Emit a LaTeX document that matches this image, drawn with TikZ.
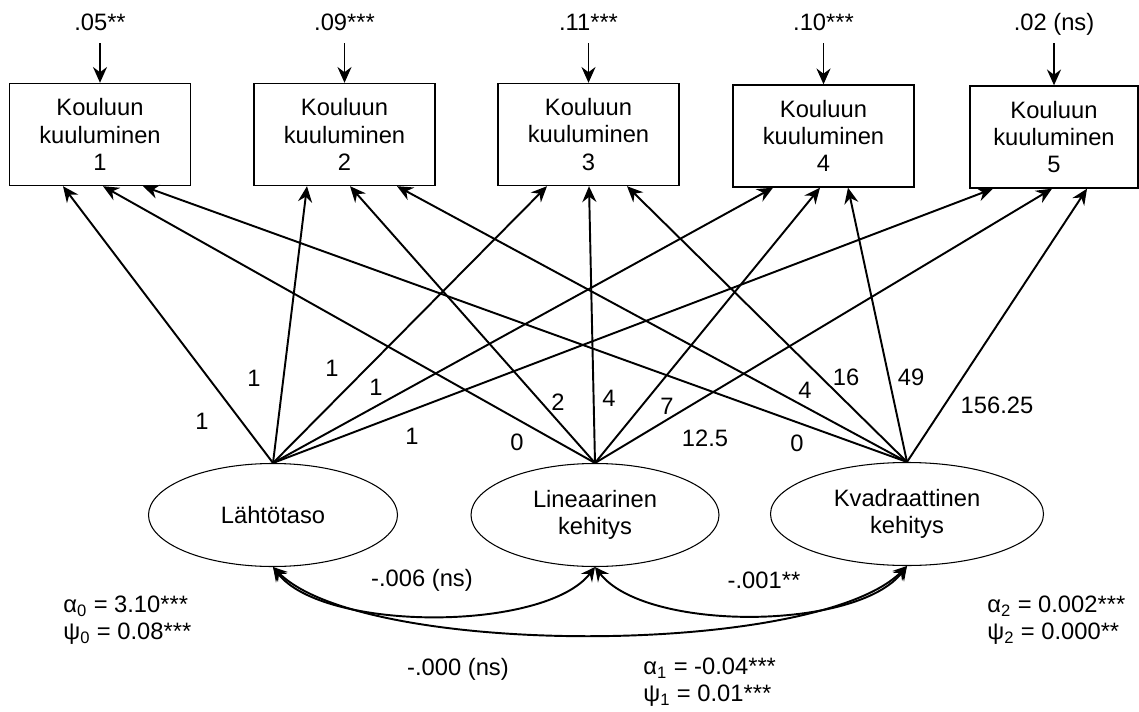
\documentclass[tikz,border=0pt]{standalone}
\usepackage{fontspec}
\setmainfont{Liberation Sans}
\usetikzlibrary{shapes.geometric,arrows.meta}
\tikzstyle{indicator}=[rectangle, draw=black, line width=0.8pt, minimum width=3.62cm, minimum height=2.04cm, align=center, inner sep=1pt]
\tikzstyle{factor}=[ellipse, draw=black, line width=0.6pt, minimum height=2.06cm, align=center, inner sep=1pt]
\tikzstyle{loading}=[line width=1.1pt, -{Stealth[length=9pt,width=8pt,inset=3pt]}]
\tikzstyle{residual}=[loading, shorten <=0.12cm]
\tikzstyle{covar}=[line width=1.1pt, {Stealth[length=8pt,width=8pt,inset=3pt]}-{Stealth[length=8pt,width=8pt,inset=3pt]}]
\tikzstyle{lbl}=[inner sep=1pt]
\tikzstyle{est}=[inner sep=0pt, align=left, anchor=west]

\begin{document}
\begin{tikzpicture}[font=\fontsize{13.5}{15.5}\selectfont]
\useasboundingbox (0,0) rectangle (22.78,14.22);

% indicators
\node[indicator] (k1) at (2.00,11.53) {Kouluun\\kuuluminen\\1};
\node[indicator] (k2) at (6.89,11.53) {Kouluun\\kuuluminen\\2};
\node[indicator] (k3) at (11.77,11.53) {Kouluun\\kuuluminen\\3};
\node[indicator] (k4) at (16.47,11.50) {Kouluun\\kuuluminen\\4};
\node[indicator, minimum width=3.36cm] (k5) at (21.08,11.48) {Kouluun\\kuuluminen\\5};

% residual variances
\node[lbl, anchor=base, text depth=0.25em] (r1) at (2.00,13.6) {.05**};
\node[lbl, anchor=base, text depth=0.25em] (r2) at (6.89,13.6) {.09***};
\node[lbl, anchor=base, text depth=0.25em] (r3) at (11.77,13.6) {.11***};
\node[lbl, anchor=base, text depth=0.25em] (r4) at (16.47,13.6) {.10***};
\node[lbl, anchor=base, text depth=0.25em] (r5) at (21.08,13.6) {.02 (ns)};
\foreach \i in {1,...,5}
\draw[residual] (r\i) -- (k\i);

% growth factors
\node[factor, minimum width=4.98cm] (e1) at (5.46,3.92) {Lähtötaso};
\node[factor, minimum width=4.96cm] (e2) at (11.90,3.92) {Lineaarinen\\kehitys};
\node[factor, minimum width=5.46cm] (e3) at (18.14,3.94) {Kvadraattinen\\kehitys};

\foreach \i/\a/\b/\c in {1/-0.74/0.06/0.86, 2/-0.75/0.11/1.05, 3/-0.83/0.01/0.77, 4/-1.01/-0.07/0.49, 5/-1.22/-0.04/0.66}
{
\draw[loading] (e1.north) -- ([xshift=\a cm]k\i.south);
\draw[loading] (e2.north) -- ([xshift=\b cm]k\i.south);
\draw[loading] (e3.north) -- ([xshift=\c cm]k\i.south);
}

% loadings
\node[lbl] (w11) at (4.04,5.80) {1};
\node[lbl] (w12) at (5.08,6.66) {1};
\node[lbl] (w13) at (6.64,6.86) {1};
\node[lbl] (w14) at (7.52,6.48) {1};
\node[lbl] (w15) at (8.24,5.50) {1};
\node[lbl] (w21) at (10.34,5.38) {0};
\node[lbl] (w22) at (11.16,6.18) {2};
\node[lbl] (w23) at (12.18,6.26) {4};
\node[lbl] (w24) at (13.34,6.10) {7};
\node[lbl] (w25) at (14.10,5.46) {12.5};
\node[lbl] (w31) at (15.94,5.36) {0};
\node[lbl] (w32) at (16.10,6.42) {4};
\node[lbl] (w33) at (16.92,6.68) {16};
\node[lbl] (w34) at (18.22,6.68) {49};
\node[lbl] (w35) at (19.94,6.12) {156.25};

% covariances
\draw[covar] (e1.south) .. controls +(1.0,-1.3) and +(-1.0,-1.3) .. (e2.south);
\draw[covar] (e2.south) .. controls +(1.0,-1.3) and +(-1.0,-1.3) .. (e3.south);
\draw[covar] (e1.south) .. controls +(1.8,-1.82) and +(-1.8,-1.82) .. (e3.south);
\node[lbl] (c12) at (8.44,2.62) {-.006 (ns)};
\node[lbl] (c23) at (15.28,2.62) {-.001**};
\node[lbl] (c13) at (9.16,0.84) {-.000 (ns)};

% means and variances
\node[est] (m0) at (1.26,1.82) {α\textsubscript{0} = 3.10***\\ψ\textsubscript{0} = 0.08***};
\node[est] (m1) at (12.86,0.57) {α\textsubscript{1} = -0.04***\\ψ\textsubscript{1} = 0.01***};
\node[est] (m2) at (19.74,1.82) {α\textsubscript{2} = 0.002***\\ψ\textsubscript{2} = 0.000**};
\end{tikzpicture}
\end{document}
